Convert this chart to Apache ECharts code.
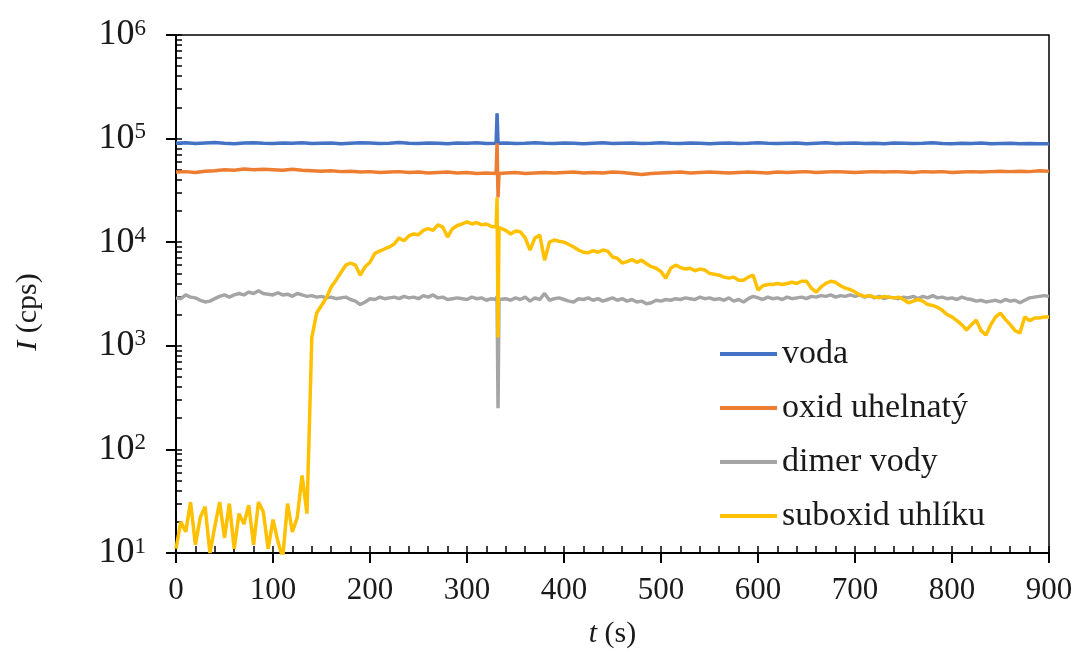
<!DOCTYPE html>
<html>
<head>
<meta charset="utf-8">
<script src="https://cdn.jsdelivr.net/npm/echarts@6/dist/echarts.min.js"></script>
<style>
  html, body { margin: 0; padding: 0; background: #fff; }
  #chart { width: 1079px; height: 658px; }
</style>
</head>
<body>
<div id="chart"></div>
<script>
// Time grids (s): flat traces sampled every 10 s, noisier traces every 5 s
const timeCoarse = [];
for (let t = 0; t <= 900; t += 10) timeCoarse.push(t);
const timeFine = [];
for (let t = 0; t <= 900; t += 5) timeFine.push(t);

// Short disturbance around t = 331–333 s, recorded in every channel
const spikeTime = [331, 332, 333];

const seriesNames = ['voda', 'oxid uhelnatý', 'dimer vody', 'suboxid uhlíku'];

// voda (cps), every 10 s
const voda = [
  90000, 91000, 89500, 90500, 91500, 90000, 89000, 90500, 91000, 90000,
  89500, 90500, 90000, 91000, 89500, 90000, 90500, 89000, 90000, 91000,
  90500, 89500, 90000, 91500, 90000, 89500, 90500, 90000, 89000, 90500,
  90000, 91000, 89500, 90000, 90500, 89500, 90000, 91000, 90000, 89500,
  90500, 90000, 89000, 90000, 91000, 89500, 90000, 90500, 89500, 90000,
  91000, 90000, 89500, 90500, 90000, 89000, 90000, 90500, 89500, 90000,
  91000, 90000, 89500, 90000, 90500, 89000, 90000, 91000, 89500, 90000,
  90500, 89500, 90000, 89000, 90500, 90000, 89500, 90000, 91000, 89500,
  89000, 90000, 89500, 90500, 89000, 89500, 90000, 89000, 89500, 89000,
  89000
];
const vodaSpike = [175000, 90000, 90000];

// oxid uhelnatý (cps), every 10 s
const oxid = [
  47500, 48000, 47000, 48500, 49000, 50000, 49500, 51000, 50000, 50500,
  50000, 49500, 50500, 49500, 49000, 48500, 49000, 48000, 48500, 47500,
  48000, 47000, 47500, 48000, 47000, 47500, 46500, 47000, 47500, 46500,
  47000, 46000, 46500, 46000, 46500, 47000, 46000, 46500, 47000, 46500,
  47000, 47500, 46500, 47000, 46500, 47500, 47000, 46000, 45000, 46000,
  46500, 47000, 47500, 46500, 47000, 47500, 47000, 46500, 47000, 47500,
  47000, 46500, 47500, 47000, 47500, 48000, 47000, 47500, 48000, 47500,
  47000, 47500, 48000, 47500, 48000, 47500, 47000, 48000, 47500, 48000,
  47000, 47500, 48000, 47500, 48000, 48500, 48000, 48500, 48000, 49000,
  48500
];
const oxidSpike = [90000, 27000, 46000];

// dimer vody (cps), every 5 s
const dimer = [
  2900, 2850, 3100, 2950, 2900, 2750, 2650, 2700, 2850, 3000,
  3100, 2950, 3100, 3200, 3100, 3300, 3200, 3400, 3200, 3150,
  3100, 3250, 3100, 3150, 3000, 3200, 3100, 3000, 3050, 2950,
  3000, 2900, 2950, 2850, 2900, 2950, 2800, 2700, 2500, 2650,
  2850, 2800, 2950, 2850, 2900, 2950, 2850, 3000, 2900, 2950,
  2850, 3050, 2950, 3100, 2900, 2950, 2800, 2850, 2900, 2850,
  2800, 2950, 2850, 2900, 2750, 2850, 2800, 2700, 2850, 2750,
  2900, 2800, 2950, 2700, 2900, 2800, 3200, 2750, 2850, 2900,
  2800, 2700, 2650, 2850, 2800, 2900, 2750, 2850, 2700, 2800,
  2900, 2750, 2850, 2700, 2800, 2650, 2700, 2550, 2600, 2750,
  2700, 2800, 2750, 2850, 2800, 2900, 2850, 2800, 2950, 2850,
  2900, 2800, 2850, 2750, 2900, 2700, 2800, 2650, 2850, 3000,
  2900, 2800, 2950, 2850, 2900, 2800, 2950, 2850, 2900, 2950,
  2850, 3000, 2950, 3050, 3000, 3100, 2950, 3050, 3000, 3100,
  3000, 3100, 2950, 3050, 2900, 3000, 2850, 2950, 2900, 2850,
  2950, 2900, 3000, 2850, 3000, 2900, 3050, 2900, 2950, 2850,
  2900, 2800, 2950, 2850, 2800, 2700, 2750, 2650, 2700, 2750,
  2650, 2800, 2700, 2750, 2600, 2750, 2900, 2950, 3000, 3050,
  3000
];
const dimerSpike = [3000, 250, 2800];

// suboxid uhlíku (cps), every 5 s
const suboxid = [
  11, 20, 16, 31, 12, 22, 28, 10, 18, 31,
  14, 30, 11, 24, 19, 29, 12, 31, 25, 11,
  21, 13, 9, 30, 16, 22, 56, 24, 1200, 2070,
  2450, 2900, 3700, 4300, 5100, 6000, 6300, 6000, 4800, 5800,
  6400, 7800, 8200, 8600, 9000, 9600, 11000, 10300, 11500, 12000,
  11800, 13000, 13500, 13000, 14700, 14000, 11200, 13500, 14500, 15000,
  15700, 15000, 15500, 14700, 15000, 14200, 14000, 13500, 13000, 12000,
  12800, 12600, 11000, 8400, 11000, 11700, 6700, 10000, 10500, 10200,
  10000, 9500, 9000, 8400, 8000, 7900, 8300, 8000, 8400, 8200,
  7200, 7000, 6300, 6500, 6800, 6400, 6700, 6200, 5800, 5600,
  5200, 4500, 5600, 6000, 5700, 5500, 5600, 5300, 5500, 5400,
  5000, 4900, 4800, 4600, 4500, 4600, 4300, 4300, 4600, 4800,
  3450, 3800, 3900, 3900, 4000, 3900, 4000, 4100, 4000, 4200,
  4200, 3600, 3300, 3700, 4000, 4200, 4100, 3800, 3600, 3500,
  3300, 3100, 3000, 3050, 2950, 2900, 3000, 2950, 2900, 2950,
  2800, 2600, 2700, 2800, 2700, 2500, 2450, 2350, 2200, 2000,
  1900, 1750, 1600, 1420, 1600, 1770, 1400, 1270, 1600, 1900,
  2070, 1800, 1600, 1400, 1330, 1900, 1750, 1850, 1850, 1900,
  1900
];
const suboxidSpike = [27000, 1200, 13800];

// Axis decades and tick labels
const yDecades = [10, 100, 1000, 10000, 100000, 1000000];
const xTicks = [0, 100, 200, 300, 400, 500, 600, 700, 800, 900];

const colors = ['#4472C4', '#ED7D31', '#A5A5A5', '#FFC000'];
const serif = '"Liberation Serif", "Times New Roman", serif';

// Pair a time grid with values and splice in the spike samples
function buildSeries(times, values, spikeVals) {
  const out = [];
  times.forEach((t, i) => {
    out.push([t, values[i]]);
    if (t < spikeTime[0] && (i + 1 >= times.length || times[i + 1] > spikeTime[spikeTime.length - 1])) {
      spikeTime.forEach((st, j) => out.push([st, spikeVals[j]]));
    }
  });
  return out;
}

// Minor tick positions: 1..9 within each decade
const yMinorTicks = [];
for (let k = 0; k < yDecades.length - 1; k++) {
  for (let m = 1; m <= 9; m++) yMinorTicks.push(m * yDecades[k]);
}
yMinorTicks.push(yDecades[yDecades.length - 1]);

const seriesValues = [
  buildSeries(timeCoarse, voda, vodaSpike),
  buildSeries(timeCoarse, oxid, oxidSpike),
  buildSeries(timeFine, dimer, dimerSpike),
  buildSeries(timeFine, suboxid, suboxidSpike)
];

const chart = echarts.init(document.getElementById('chart'), null, { renderer: 'canvas' });

const gridBox = { left: 176, right: 30, top: 35, bottom: 105 };

chart.setOption({
  animation: false,
  backgroundColor: '#ffffff',
  color: colors,
  grid: Object.assign({ show: true, borderColor: '#000', borderWidth: 1.5, backgroundColor: 'transparent' }, gridBox),
  legend: {
    orient: 'vertical',
    left: 715,
    top: 332,
    icon: 'rect',
    itemWidth: 57,
    itemHeight: 4,
    itemGap: 20,
    data: seriesNames,
    textStyle: { fontFamily: serif, fontSize: 34, color: '#1a1a1a' }
  },
  xAxis: [
    {
      type: 'value',
      position: 'bottom',
      min: xTicks[0],
      max: xTicks[xTicks.length - 1],
      interval: 100,
      axisLine: { show: true, lineStyle: { color: '#000', width: 2 } },
      axisTick: { show: true, inside: false, length: 10, lineStyle: { color: '#000', width: 2 } },
      axisLabel: { fontFamily: serif, fontSize: 31, color: '#1a1a1a', margin: 22 },
      splitLine: { show: false },
      name: '{i|t} (s)',
      nameLocation: 'middle',
      nameGap: 66,
      nameTextStyle: {
        fontFamily: serif, fontSize: 30, color: '#1a1a1a',
        rich: { i: { fontFamily: serif, fontSize: 30, fontStyle: 'italic', color: '#1a1a1a' } }
      }
    },
    {
      type: 'value',
      position: 'bottom',
      min: xTicks[0],
      max: xTicks[xTicks.length - 1],
      interval: 20,
      axisLine: { show: false },
      axisTick: { show: true, inside: true, length: 7, lineStyle: { color: '#000', width: 1.5 } },
      axisLabel: { show: false },
      splitLine: { show: false }
    }
  ],
  yAxis: [
    {
      type: 'log',
      logBase: 10,
      position: 'left',
      min: yDecades[0],
      max: yDecades[yDecades.length - 1],
      axisLine: { show: true, lineStyle: { color: '#000', width: 2 } },
      axisTick: { show: true, inside: false, length: 10, lineStyle: { color: '#000', width: 2 } },
      axisLabel: {
        margin: 30,
        color: '#1a1a1a',
        formatter: v => '{b|10}{s|' + Math.round(Math.log10(v)) + '}',
        rich: {
          b: { fontFamily: serif, fontSize: 36, color: '#1a1a1a', lineHeight: 36 },
          s: { fontFamily: serif, fontSize: 23, color: '#1a1a1a', verticalAlign: 'top', lineHeight: 36, padding: [0, 0, 16, 0] }
        }
      },
      splitLine: { show: false },
      name: '{i|I} (cps)',
      nameLocation: 'middle',
      nameRotate: 90,
      nameGap: 133,
      nameTextStyle: {
        fontFamily: serif, fontSize: 30, color: '#1a1a1a',
        padding: [0, 36, 0, 0],
        rich: { i: { fontFamily: serif, fontSize: 30, fontStyle: 'italic', color: '#1a1a1a' } }
      }
    },
    {
      type: 'log',
      logBase: 10,
      position: 'left',
      min: yDecades[0],
      max: yDecades[yDecades.length - 1],
      axisLine: { show: false },
      axisTick: { show: true, inside: true, length: 6, customValues: yMinorTicks, lineStyle: { color: '#000', width: 1.5 } },
      axisLabel: { show: false },
      splitLine: { show: false }
    }
  ],
  series: seriesNames.map((name, i) => ({
    name: name,
    type: 'line',
    xAxisIndex: 0,
    yAxisIndex: 0,
    data: seriesValues[i],
    symbol: 'none',
    clip: true,
    lineStyle: { width: 3.5, color: colors[i] },
    itemStyle: { color: colors[i] },
    z: 2 + i
  }))
});
</script>
</body>
</html>
